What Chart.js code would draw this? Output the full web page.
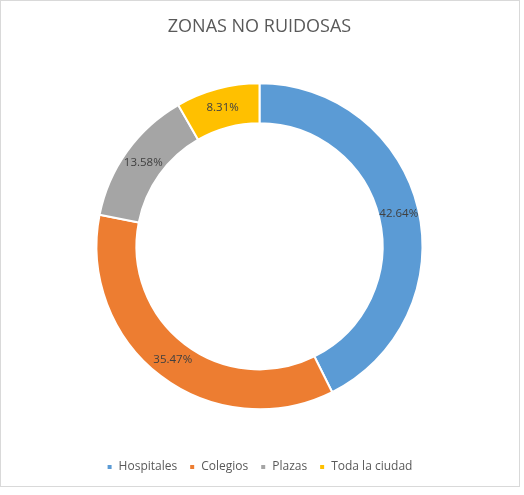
<!DOCTYPE html>
<html>
<head>
<meta charset="utf-8">
<script src="https://cdn.jsdelivr.net/npm/chart.js@4/dist/chart.umd.min.js"></script>
<style>
    html, body { margin: 0; padding: 0; background: #fff; }
    .frame { position: absolute; left: 0; top: 0; width: 520px; height: 487px; border: 1px solid #d9d9d9; box-sizing: border-box; }
    #chart { position: absolute; left: 0; top: 0; }
</style>
</head>
<body>
<div class="frame"></div>
<canvas id="chart" width="524" height="495"></canvas>
<script>
// ---------------- DATA ----------------
const categories = ['Hospitales', 'Colegios', 'Plazas', 'Toda la ciudad'];
const shares = [42.64, 35.47, 13.58, 8.31];
const sliceColors = ['#5B9BD5', '#ED7D31', '#A5A5A5', '#FFC000'];

const FONT = "'Open Sans', sans-serif";

// labels drawn in the middle of each ring segment
const ringLabels = {
    id: 'ringLabels',
    afterDatasetsDraw(chart) {
        const ctx = chart.ctx;
        const meta = chart.getDatasetMeta(0);
        ctx.save();
        ctx.font = `11.5px ${FONT}`;
        ctx.fillStyle = '#404040';
        ctx.textAlign = 'center';
        ctx.textBaseline = 'middle';
        meta.data.forEach((arc, i) => {
            const p = arc.tooltipPosition();
            ctx.fillText(shares[i].toFixed(2) + '%', p.x, p.y);
        });
        ctx.restore();
    }
};

new Chart(document.getElementById('chart').getContext('2d'), {
    type: 'doughnut',
    data: {
        labels: categories,
        datasets: [{
            data: shares,
            backgroundColor: sliceColors,
            borderColor: '#ffffff',
            borderWidth: 2,
            radius: 163,
            cutout: '75.5%'
        }]
    },
    options: {
        responsive: false,
        animation: false,
        layout: { padding: { left: 0, right: 5, top: 0, bottom: 12 } },
        plugins: {
            title: {
                display: true,
                text: 'ZONAS NO RUIDOSAS',
                color: '#595959',
                font: { family: FONT, size: 18, weight: 'normal' },
                padding: { top: 16, bottom: 6 }
            },
            legend: {
                position: 'bottom',
                labels: {
                    color: '#595959',
                    font: { family: FONT, size: 12 },
                    boxWidth: 6,
                    boxHeight: 6,
                    padding: 12
                }
            },
            tooltip: { enabled: false }
        }
    },
    plugins: [ringLabels]
});
</script>
</body>
</html>
